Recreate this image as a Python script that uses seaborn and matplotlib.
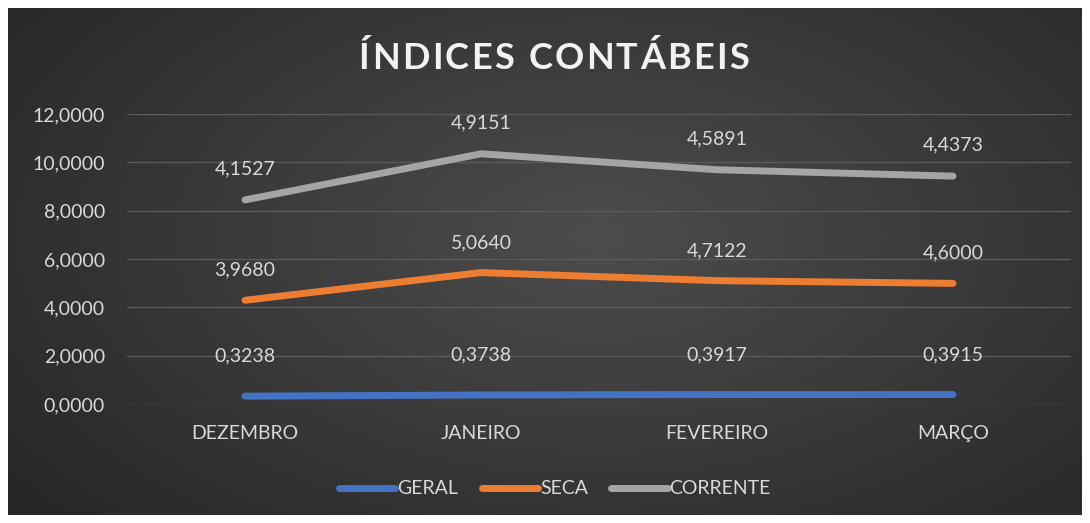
import numpy as np
import pandas as pd
import seaborn as sns
from matplotlib import pyplot as plt

months = ["DEZEMBRO", "JANEIRO", "FEVEREIRO", "MARÇO"]
geral = [0.3238, 0.3738, 0.3917, 0.3915]
seca = [3.9680, 5.0640, 4.7122, 4.6000]
corrente = [4.1527, 4.9151, 4.5891, 4.4373]
series_names = ["GERAL", "SECA", "CORRENTE"]
colors = ["#4472C4", "#ED7D31", "#A5A5A5"]
title = "ÍNDICES CONTÁBEIS"

sns.set_style("dark")
plt.rcParams["font.family"] = ["Lato", "DejaVu Sans"]

# stacked line chart (Excel style): each series sits on top of the previous
vals = np.array([geral, seca, corrente])
stacked = vals.cumsum(axis=0)

rows = []
for name, raw, top in zip(series_names, vals, stacked):
    for i, m in enumerate(months):
        rows.append({"mes": m, "pos": i, "serie": name, "valor": raw[i], "topo": top[i]})
df = pd.DataFrame(rows)

fig = plt.figure(figsize=(10.9, 5.23), dpi=100, facecolor="white")

# dark gradient background panel
bg = fig.add_axes([8 / 1090, 8 / 523, 1074 / 1090, 507 / 523])
yy, xx = np.mgrid[0:1:300j, 0:1:600j]
r = np.sqrt(((xx - 0.55) / 0.75) ** 2 + ((yy - 0.45) / 0.9) ** 2)
shade = np.clip(0.30 - 0.16 * r, 0.15, 0.31)
bg.imshow(np.dstack([shade] * 3), aspect="auto", extent=(0, 1, 0, 1))
bg.set_axis_off()

ax = fig.add_axes([127 / 1090, 1 - 404 / 523, 944 / 1090, 290 / 523])
ax.set_facecolor("none")
sns.lineplot(data=df, x="pos", y="topo", hue="serie", palette=colors,
             hue_order=series_names, linewidth=5, ax=ax, legend=False,
             solid_capstyle="round", zorder=3)

offsets = {"GERAL": 40, "SECA": 30, "CORRENTE": 31}
for _, row in df.iterrows():
    ax.annotate(f"{row['valor']:.4f}".replace(".", ","), (row["pos"], row["topo"]),
                xytext=(0, offsets[row["serie"]] * 0.72), textcoords="offset points",
                ha="center", va="center", color="#D9D9D9", fontsize=14)

ax.set_xlim(-0.5, 3.5)
ax.set_ylim(0, 12)
ax.set_yticks(range(0, 13, 2))
ax.set_yticklabels([f"{v:.4f}".replace(".", ",") for v in range(0, 13, 2)])
ax.set_xticks(range(4))
ax.set_xticklabels(months)
ax.tick_params(axis="both", colors="#D9D9D9", labelsize=14, length=0)
ax.tick_params(axis="y", pad=16)
ax.tick_params(axis="x", pad=15)
ax.grid(axis="y", color="#5a5a5a", linewidth=1)
ax.grid(axis="x", visible=False)
for s in ax.spines.values():
    s.set_visible(False)
ax.set_xlabel("")
ax.set_ylabel("")

# letter-spaced title, laid out char by char
renderer = fig.canvas.get_renderer()
title_kw = dict(fontsize=26, fontweight="bold", color="#F2F2F2", va="baseline", ha="left")
widths = []
for ch in title:
    t = fig.text(0, 0, ch if ch != " " else "n", **title_kw)
    w = t.get_window_extent(renderer).width
    if ch == " ":
        w *= 0.5
    widths.append(w)
    t.remove()
left_px, right_px = 359, 749
gap = (right_px - left_px - sum(widths)) / (len(title) - 1)
x = left_px
for ch, w in zip(title, widths):
    if ch != " ":
        fig.text(x / 1090, 1 - 69 / 523, ch, **title_kw)
    x += w + gap

handles = [plt.Line2D([], [], color=c, linewidth=5, solid_capstyle="round") for c in colors]
fig.legend(handles, series_names, loc="center", bbox_to_anchor=(555 / 1090, 1 - 489 / 523),
           ncol=3, frameon=False, fontsize=14, labelcolor="#D9D9D9",
           handlelength=2.9, handletextpad=0.1, columnspacing=1.2)

fig.savefig("out.png", dpi=100, facecolor="white")
